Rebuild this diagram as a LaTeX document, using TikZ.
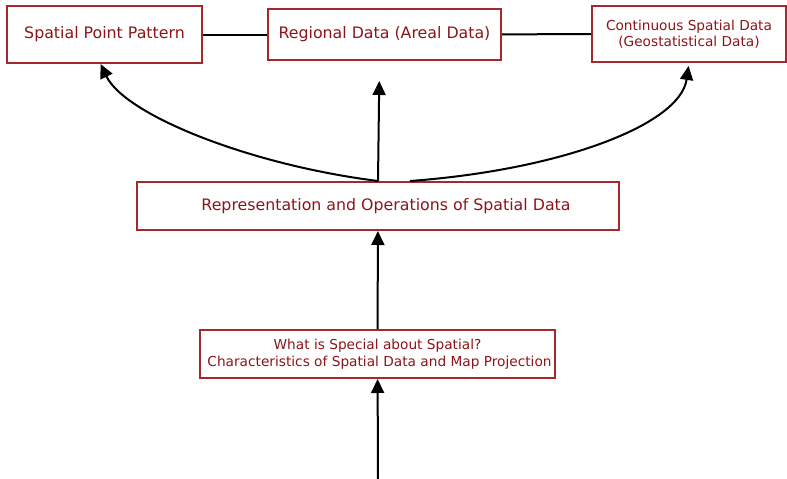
\documentclass[tikz,border=0pt]{standalone}
\usepackage{fontspec}
\setmainfont{DejaVu Sans}
\usepackage{xcolor}
\usetikzlibrary{arrows.meta, positioning}
\definecolor{boxred}{RGB}{165,40,45}
\definecolor{labelred}{RGB}{140,20,25}

\begin{document}
\begin{tikzpicture}[x=1pt, y=-1pt,
        topicbox/.style={draw=boxred, line width=2pt, text=labelred, inner sep=0pt, align=center, font=\fontsize{15.8}{18}\selectfont},
        smallbox/.style={topicbox, font=\fontsize{13.7}{16.5}\selectfont},
        flow/.style={line width=2pt, -{Triangle[length=14pt, width=13pt]}},
        link/.style={line width=2pt}]
        \useasboundingbox (0,0) rectangle (787,479);

        % Kinds of spatial data
        \node[topicbox, minimum width=195pt, minimum height=57pt] (spp) at (104.5,34.5) {Spatial Point Pattern};
        \node[topicbox, minimum width=233pt, minimum height=51pt] (reg) at (384.5,34.5) {Regional Data (Areal Data)};
        \node[smallbox, minimum width=194pt, minimum height=56pt] (cont) at (689,34) {Continuous Spatial Data\\(Geostatistical Data)};
        \draw[link] (spp) -- (reg);
        \draw[link] (reg) -- (cont);

        % Representation
        \node[topicbox, minimum width=482pt, minimum height=48pt] (rep) at (378,206) {\hspace*{16pt}Representation and Operations of Spatial Data};

        % What is special
        \node[smallbox, minimum width=355pt, minimum height=48pt] (what) at (377.5,354) {What is Special about Spatial?\\\hspace*{4pt}Characteristics of Spatial Data and Map Projection};
        \coordinate (start) at (378,480);

        % Arrows
        \draw[flow] (start) -- (what);
        \draw[flow] (what) -- (rep);
        \draw[flow] (rep.north) .. controls (250,165) and (125,115) .. ([xshift=-4pt]spp.south);
        \draw[flow, shorten >=20pt] (rep.north) -- ([xshift=-5pt]reg.south);
        \draw[flow, shorten >=3pt] ([xshift=32pt]rep.north) .. controls (560,170) and (680,125) .. (cont.south);

    \end{tikzpicture}
\end{document}
